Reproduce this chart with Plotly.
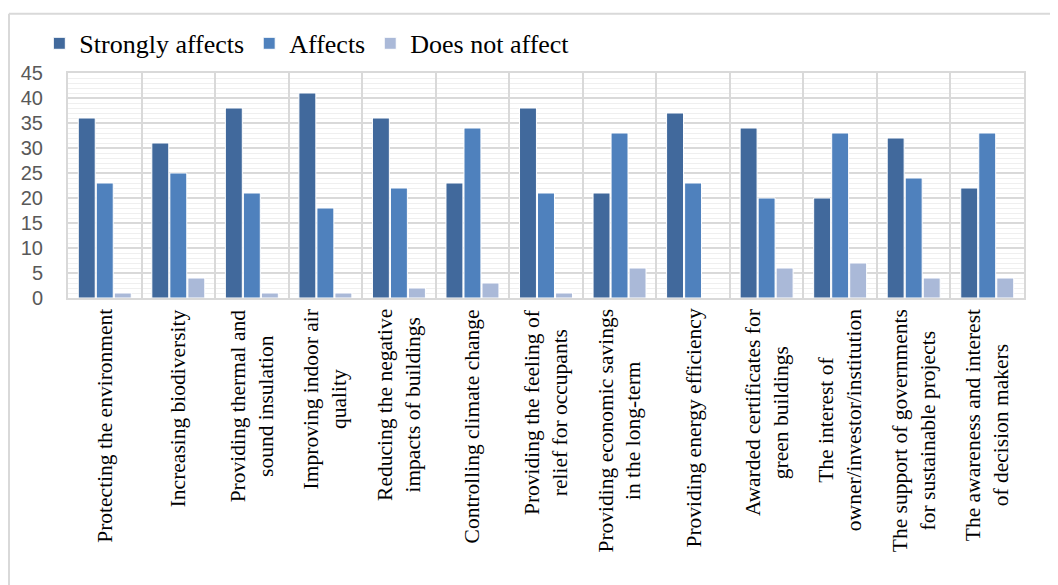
import plotly.graph_objects as go

categories = [
    "Protecting the environment",
    "Increasing biodiversity",
    "Providing thermal and<br>sound insulation",
    "Improving indoor air<br>quality",
    "Reducing the negative<br>impacts of buildings",
    "Controlling climate change",
    "Providing the feeling of<br>relief for occupants",
    "Providing economic savings<br>in the long-term",
    "Providing energy efficiency",
    "Awarded certificates for<br>green buildings",
    "The interest of<br>owner/investor/institution",
    "The support of governments<br>for sustainable projects",
    "The awareness and interest<br>of decision makers",
]
strongly_affects = [36, 31, 38, 41, 36, 23, 38, 21, 37, 34, 20, 32, 22]
affects = [23, 25, 21, 18, 22, 34, 21, 33, 23, 20, 33, 24, 33]
does_not_affect = [1, 4, 1, 1, 2, 3, 1, 6, 0, 6, 7, 4, 4]
y_ticks = [0, 5, 10, 15, 20, 25, 30, 35, 40, 45]

series = [
    ("Strongly affects", strongly_affects, "#41699c"),
    ("Affects", affects, "#4f81bd"),
    ("Does not affect", does_not_affect, "#aab9d8"),
]

fig = go.Figure()
for name, vals, col in series:
    fig.add_trace(go.Bar(
        x=categories, y=vals, name=name,
        marker=dict(color=col, line=dict(color="#ffffff", width=1)),
    ))

PLOT_H = 585 - 62 - 295
fig.update_layout(
    width=1058, height=585,
    paper_bgcolor="white", plot_bgcolor="white",
    margin=dict(l=60, r=42, t=62, b=295),
    barmode="group", bargap=0.265, bargroupgap=0.06,
    font=dict(family="Liberation Serif", color="#000000"),
    legend=dict(
        orientation="h", x=-0.03, xanchor="left",
        y=1 + 30 / PLOT_H, yanchor="middle",
        font=dict(family="Liberation Serif", size=26, color="#000000"),
        itemwidth=30, traceorder="normal",
        bgcolor="rgba(0,0,0,0)",
    ),
    showlegend=True,
)

fig.update_xaxes(
    type="category", automargin=False, showticklabels=False,
    showgrid=True, gridcolor="#d9d9d9", gridwidth=2, tickson="boundaries",
    showline=True, linecolor="#d9d9d9", linewidth=2, mirror=True,
    ticks="",
)
fig.update_yaxes(
    range=[0, 45], tickvals=y_ticks, automargin=False,
    tickfont=dict(family="Liberation Sans", size=20, color="#595959"),
    showgrid=True, gridcolor="#d9d9d9", gridwidth=2,
    showline=True, linecolor="#d9d9d9", linewidth=2, mirror=True,
    ticks="outside", ticklen=19, tickcolor="rgba(0,0,0,0)",
    zeroline=False,
    minor=dict(dtick=1, showgrid=True, gridcolor="#efefef", gridwidth=1),
)

# category labels, rotated, lines centered
for cat in categories:
    fig.add_annotation(
        x=cat, xref="x", y=0, yref="paper", yanchor="top", xanchor="center",
        yshift=-9, textangle=-90, align="center", showarrow=False,
        text=cat, font=dict(family="Liberation Serif", size=21.5, color="#000000"),
    )

# outer chart frame (left and top edges)
fig.add_shape(type="line", xref="paper", yref="paper",
              x0=-59 / 956, x1=-59 / 956, y0=-2, y1=1 + 60 / PLOT_H,
              line=dict(color="#d9d9d9", width=2))
fig.add_shape(type="line", xref="paper", yref="paper",
              x0=-59 / 956, x1=1.05, y0=1 + 60 / PLOT_H, y1=1 + 60 / PLOT_H,
              line=dict(color="#d9d9d9", width=2))

fig.write_html("out.html")
